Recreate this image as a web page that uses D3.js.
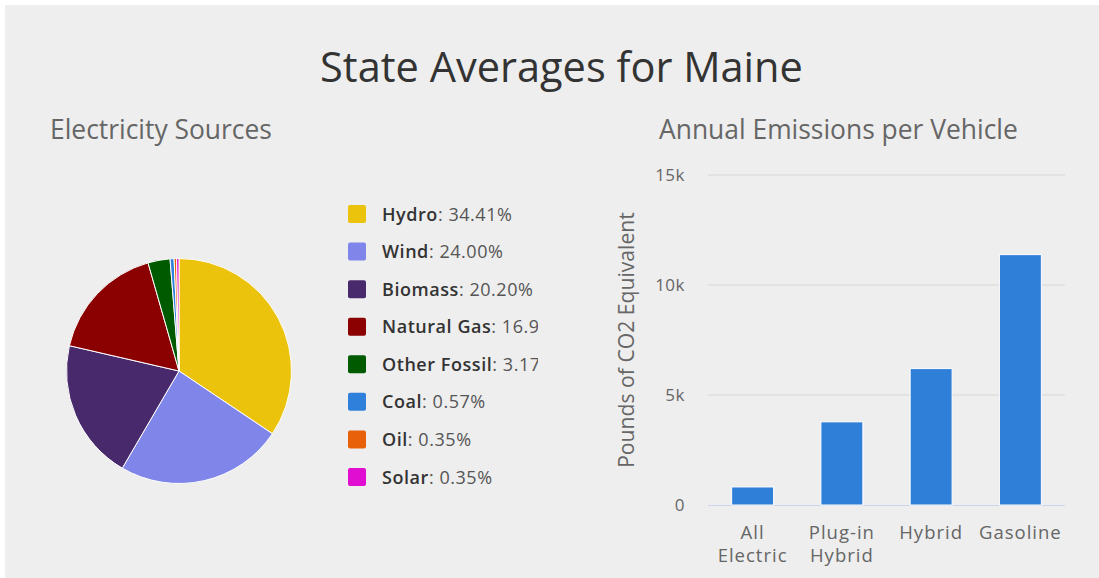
<!DOCTYPE html>
<html><head><meta charset="utf-8">
<script src="https://cdn.jsdelivr.net/npm/d3@7"></script>
<style>body{margin:0;background:#fff;}svg{display:block;}</style>
</head><body>
<svg id="c" width="1099" height="578"></svg>
<script>
const sources = ["Hydro","Wind","Biomass","Natural Gas","Other Fossil","Coal","Oil","Solar"];
const shares = [34.41, 24.00, 20.20, 16.95, 3.17, 0.57, 0.35, 0.35];
const sourceColors = ["#ebc30d","#8085e9","#482a6c","#8b0000","#005a00","#2f80db","#e8610a","#e00ed0"];
const vehicles = [["All","Electric"],["Plug-in","Hybrid"],["Hybrid"],["Gasoline"]];
const emissions = [820, 3780, 6200, 11380];
const yTicks = [0, 5000, 10000, 15000];
const yTickLabels = ["0","5k","10k","15k"];

const FONT = "'Open Sans', 'Noto Sans', sans-serif";
const svg = d3.select("#c");
svg.append("rect").attr("x",5).attr("y",5).attr("width",1094).attr("height",573).attr("fill","#eeeeee");

function fit(sel, w){ const n=sel.node(); const fs=parseFloat(sel.attr("font-size")); const cw=n.getComputedTextLength(); sel.attr("font-size", fs*w/cw); return sel; }

fit(svg.append("text").attr("x",561.5).attr("y",82).attr("text-anchor","middle").attr("font-family",FONT)
  .attr("font-size",36).attr("fill","#333333").text("State Averages for Maine"),483);
fit(svg.append("text").attr("x",50).attr("y",139).attr("font-family",FONT)
  .attr("font-size",22).attr("fill","#666666").text("Electricity Sources"),222);
fit(svg.append("text").attr("x",659).attr("y",139).attr("font-family",FONT)
  .attr("font-size",22).attr("fill","#666666").text("Annual Emissions per Vehicle"),359);

// Pie
const pie = d3.pie().sort(null).value(d=>d)(shares);
const arc = d3.arc().innerRadius(0).outerRadius(112.5);
const pg = svg.append("g").attr("transform","translate(179,371)");
pg.selectAll("path").data(pie).join("path").attr("d",arc)
  .attr("fill",(d,i)=>sourceColors[i]).attr("stroke","#ffffff").attr("stroke-width",1).attr("stroke-linejoin","round");

// Legend
svg.append("clipPath").attr("id","lc").append("rect").attr("x",340).attr("y",190).attr("width",198).attr("height",310);
const lg = svg.append("g").attr("clip-path","url(#lc)");
const rowY = d3.scaleLinear().domain([0,7]).range([214,477]);
sources.forEach((s,i)=>{
  const y=rowY(i);
  lg.append("rect").attr("x",348).attr("y",y-9).attr("width",18).attr("height",18).attr("rx",2).attr("fill",sourceColors[i]);
  const t=lg.append("text").attr("x",382).attr("y",y+6.5).attr("font-family",FONT).attr("font-size",18)
    .attr("letter-spacing",0.55).attr("fill","#333333");
  t.append("tspan").attr("font-weight",600).text(s);
  t.append("tspan").attr("fill","#555555").text(": "+shares[i].toFixed(2)+"%");
});

// Bars
const x = d3.scaleBand().domain(vehicles.map(v=>v.join(" "))).range([708,1065]).paddingInner(0.53).paddingOuter(0.265);
const y = d3.scaleLinear().domain([0,15000]).range([505,175]);
const bg = svg.append("g");
bg.selectAll("line.g").data(yTicks.slice(1)).join("line").attr("x1",708).attr("x2",1065)
  .attr("y1",d=>y(d)).attr("y2",d=>y(d)).attr("stroke","#d6d6d6").attr("stroke-width",1.2);
bg.append("line").attr("x1",708).attr("x2",1065).attr("y1",y(0)+0.5).attr("y2",y(0)+0.5).attr("stroke","#ccd6eb").attr("stroke-width",1.2);
bg.selectAll("rect.b").data(emissions).join("rect").attr("class","b")
  .attr("x",(d,i)=>x(vehicles[i].join(" "))).attr("width",x.bandwidth())
  .attr("y",d=>y(d)).attr("height",d=>y(0)-y(d)).attr("fill","#2f7ed8").attr("stroke","#ffffff").attr("stroke-width",1);
yTicks.forEach((t,i)=>{
  bg.append("text").attr("x",685).attr("y",y(t)+6).attr("text-anchor","end").attr("font-family",FONT)
    .attr("font-size",17).attr("letter-spacing",0.5).attr("fill","#666666").text(yTickLabels[i]);
});
vehicles.forEach(v=>{
  const cx = x(v.join(" "))+x.bandwidth()/2;
  v.forEach((line,j)=>{
    bg.append("text").attr("x",cx).attr("y",539+j*23).attr("text-anchor","middle").attr("font-family",FONT)
      .attr("font-size",18.5).attr("letter-spacing",1).attr("fill","#666666").text(line);
  });
});
const yt = svg.append("text").attr("transform","translate(634,340) rotate(-90)").attr("text-anchor","middle")
  .attr("font-family",FONT).attr("font-size",18).attr("fill","#666666").text("Pounds of CO2 Equivalent");
fit(yt,256);
</script>
</body></html>
